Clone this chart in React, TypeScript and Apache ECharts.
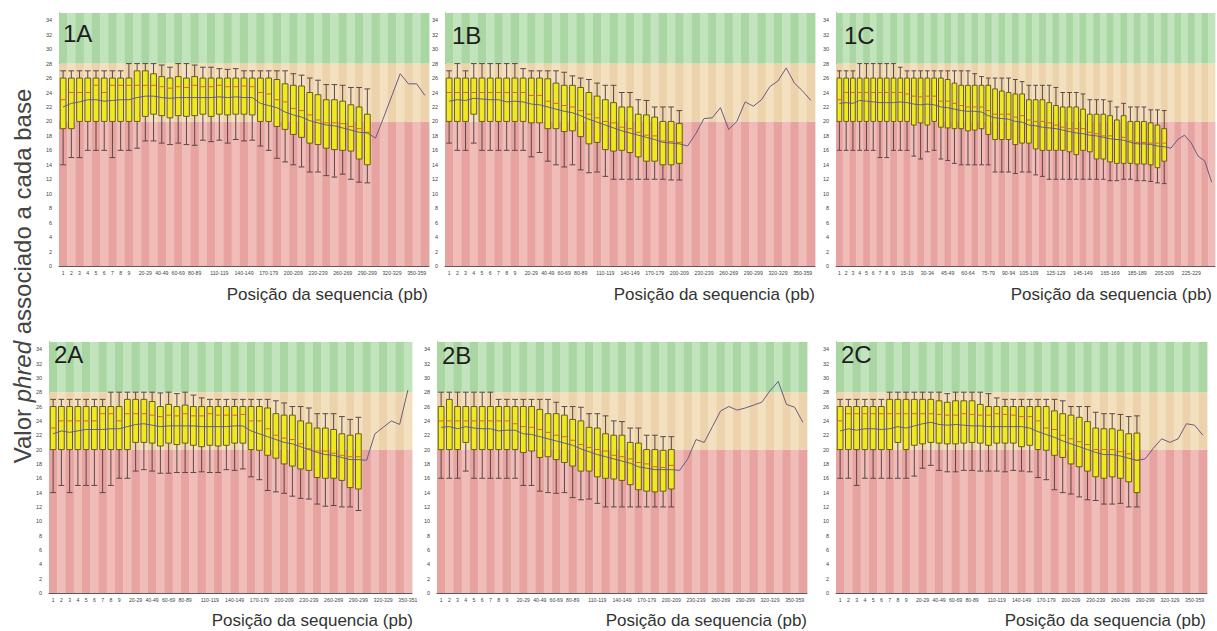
import React, { useEffect, useRef } from "react";
import * as echarts from "echarts";

// ---------- categories ----------
const POS_10 = ["1","2","3","4","5","6","7","8","9","10-19","20-29","30-39","40-49","50-59","60-69","70-79","80-89","90-99","100-109","110-119","120-129","130-139","140-149","150-159","160-169","170-179","180-189","190-199","200-209","210-219","220-229","230-239","240-249","250-259","260-269","270-279","280-289","290-299","300-309","310-319","320-329","330-339","340-349","350-359","360-369"];
const POS_2A = ["1","2","3","4","5","6","7","8","9","10-19","20-29","30-39","40-49","50-59","60-69","70-79","80-89","90-99","100-109","110-119","120-129","130-139","140-149","150-159","160-169","170-179","180-189","190-199","200-209","210-219","220-229","230-239","240-249","250-259","260-269","270-279","280-289","290-299","300-309","310-319","320-329","330-339","340-349","350-351"];
const POS_5 = ["1","2","3","4","5","6","7","8","9","10-14","15-19","20-24","25-29","30-34","35-39","40-44","45-49","50-54","55-59","60-64","65-69","70-74","75-79","80-84","85-89","90-94","95-99","100-104","105-109","110-114","115-119","120-124","125-129","130-134","135-139","140-144","145-149","150-154","155-159","160-164","165-169","170-174","175-179","180-184","185-189","190-194","195-199","200-204","205-209","210-214","215-219","220-224","225-229","230-234","235-239","240-244"];

// ---------- tick labels shown ----------
const TICKS_10 = ["1","2","3","4","5","6","7","8","9","20-29","40-49","60-69","80-89","110-119","140-149","170-179","200-209","230-239","260-269","290-299","320-329","350-359"];
const TICKS_2A = ["1","2","3","4","5","6","7","8","9","20-29","40-49","60-69","80-89","110-119","140-149","170-179","200-209","230-239","260-269","290-299","320-329","350-351"];
const TICKS_5 = ["1","2","3","4","5","6","7","8","9","15-19","30-34","45-49","60-64","75-79","90-94","105-109","125-129","145-149","165-169","185-189","205-209","225-229"];

// quality thresholds / axis range
const Y_MAX = 35;
const RED_MAX = 20;
const ORANGE_MAX = 28;

// ---------- box data [min, q1, median, q3, max] ----------
const BOX_1A = [
  [14,19,23,26,27],[15,19,24,26,27],[15,20,24,26,27],[16,20,24,26,27],[16,20,25,26,27],
  [16,20,24,26,27],[15,20,25,26,27],[16,20,25,26,27],[16,20,25,26,28],[16.3,20,25,27,28],
  [17.3,20.7,25,27,28],[17.3,21,25,26.6,28],[17,20.8,24.8,26.2,27.8],[16.8,20.5,24.6,26,27.5],[17,20.8,24.8,26.2,28],
  [16.8,20.7,24.7,26,28],[16.7,20.8,25,26.2,27.8],[17.4,21,24.8,26,27.5],[17.2,20.7,24.8,26,27.5],[17.4,21,25,26,27.3],
  [17,20.9,24.8,26,27.2],[17.5,21,24.8,26,27.3],[17.3,21,24.9,26,27],[17.4,20.9,24.8,26,27],[16.6,20,24,26,27],
  [16,20,23.8,26,27],[14.9,19.3,23,25.8,27],[14.4,18.9,22.7,25.2,27],[14,18.2,21.8,25,26.6],[13.7,17.8,21.5,24.9,26.4],
  [13,17,20.9,24,26],[13,16.8,20.2,23.7,25.7],[12.5,16.3,19.8,23,25.1],[12.3,16.1,19.8,23,25.1],[12.7,16,19.7,22.8,25],
  [12,15.9,19.3,22.3,24.7],[11.6,14.8,19,22,24.7],[11.5,14,18.5,21,24.5]
];
const MEAN_1A = [22,22.5,22.7,23,23,22.8,22.9,23,23,23.3,23.5,23.5,23.3,23.2,23.3,23.3,23.3,23.3,23.3,23.4,23.3,23.4,23.3,23.3,22.5,22.2,21.9,21.3,20.9,20.6,20.1,19.8,19.5,19.4,19.1,18.8,18.5,18.4,17.7,20.6,23.6,26.6,25.2,25.2,23.6];

const BOX_1B = [
  [17,20,24,26,27],[16,20,24,26,28],[16,20,24,26,27],[17,21,24,26,28],[16,20,24,26,28],
  [16,20,24,26,28],[16,20,24,26,28],[16,20,24,26,28],[16,20,24,26,28],[16,20,24,26,27.3],
  [15.1,19.8,23.6,26,27],[15.7,19.8,23.6,26,27],[14.5,19,22.8,25.9,27],[14,19,22.5,25.3,27],[13.7,18.6,22.2,25,26.8],
  [14,18.7,22,25,26.3],[13.3,17.9,21.5,24.7,26],[12.9,16.9,21,24,25.8],[13,17.1,20.5,23.5,25.3],[12.4,16.1,20,23,25],
  [12,15.9,19.8,22.6,25],[12,16,19.2,22,24],[12,15.7,19,22,24],[12,15.1,18.5,21,23],[12,14.5,18.1,20.9,22.9],
  [12,14.5,18,20.6,22],[12,14,17.3,20,22],[11.9,14,17.2,20,22],[11.9,14.2,17.1,19.7,21.5]
];
const MEAN_1B = [22.8,23,22.9,23.2,23.1,23,23,22.7,22.8,22.7,22.4,22.3,22,21.7,21.4,21.2,20.8,20.3,19.9,19.5,19.1,18.7,18.4,18.1,17.8,17.5,17.1,17,16.9,16.6,18.3,20.4,20.5,21.9,18.9,20,22.7,22.1,23,24.8,25.6,27.4,25.3,24.2,22.9];

const BOX_1C = [
  [16,20,23,26,27],[16,20,24,26,27],[16,20,24,26,27],[16,20,24,26,28],[16,20,24,26,28],
  [16,20,24,26,28],[15,20,24,26,28],[15,20,24,26,28],[16,20,24,26,28],[16,20,24,26,27.5],
  [16,20,23.8,26,27],[15.2,19.5,23.5,26,27],[14.8,19.8,23.4,26,27],[15.8,19.5,23.5,26,27],[16,20,23.5,26,27],
  [14.8,19.2,22.8,26,27],[14.6,19.1,22.8,25.8,27],[14.2,19,22.5,25.3,27],[14,19,22.2,25,27],[14,18.7,22,25,27],
  [14,18.8,22,25,26.6],[14,19,22,25,26.2],[14,18.2,21.5,25,26],[13,17.5,21,24.5,26],[13,17.5,21,24.2,26],
  [13,17.5,21,24,26],[12.8,16.8,20.6,23.8,25.8],[13,17,20.8,23.8,25.5],[13,17,20.2,23,25],[12.6,16.2,20,23,25],
  [12.4,16,20,23,25],[12,16,19.8,22.6,25],[12,16,19.5,22.2,24.7],[12,16,19.2,22,24],[12,15.8,19,22,24],
  [12,15.4,19,22,24],[12,16,19,21.7,23.8],[12,15.8,18.5,21,23],[12,14.8,18.3,21,23],[12,14.8,18,21,23],
  [11.8,14.4,18,20.8,22.8],[11.8,14.2,17.5,20.2,22],[12,14.2,17.8,20.8,22.5],[12,14.2,17.3,20,22],[11.8,14.1,17.1,20,22],
  [11.8,14.1,17.1,20,22],[11.7,14,17,19.8,21.6],[11.5,13.6,17,19.5,21.6],[11.4,14.5,17,19,21.5]
];
const MEAN_1C = [22.5,22.6,22.5,22.9,22.8,22.7,22.6,22.6,22.6,22.7,22.6,22.4,22.3,22.4,22.3,22,21.9,21.7,21.5,21.4,21.4,21.3,20.8,20.5,20.4,20.3,20,19.9,19.5,19.4,19.2,19.1,19,18.8,18.6,18.4,18.3,18.1,18,17.8,17.6,17.5,17.4,17.1,16.9,16.9,16.8,16.6,16.5,16.3,17.5,18.1,17,15.2,14.5,11.6];

const BOX_2A = [
  [14,20,23,26,27],[15,20,24,26,27],[14,20,24,26,27],[15,20,24,26,27],[15,20,24,26,27],
  [15,20,24,26,27],[14,20,25,26,27],[15,20,25,26,28],[16,20,24,26,28],[16,20,25,27,28],
  [17,21,25,27,28],[17.2,21,25,27,28],[17,20.9,24.8,26.7,28],[16.7,20.5,24.6,26,27.9],[16.7,20.9,24.8,26.3,28],
  [16.8,20.7,24.7,26,27.8],[16.8,20.9,25,26.2,28],[16.8,20.6,24.7,26,27.6],[16.9,20.4,24.7,26,27.2],[16.8,20.6,25,26,27],
  [16.8,20.5,24.8,26,27],[17.2,20.6,24.8,26,27],[17.1,20.9,24.8,26,27],[17.3,20.9,24.9,26,27],[16.2,20,24,26,27],
  [15.8,19.9,24,26,27],[14.3,19.2,22.9,25.8,27],[14.1,18.8,22,25,26.8],[13.9,18,21.6,24.8,26.5],[13.5,17.7,21.4,24.8,26],
  [13.2,17.3,20.8,24,26],[13.1,17.1,20.1,23.7,25.8],[12.4,16.1,19.8,23,25],[12.1,16,19.8,23,25],[12.2,16,19.5,22.8,25],
  [12,15.7,19.2,22.2,24.6],[12,14.7,19,22,24.2],[11.5,14.5,19,22.2,24.5]
];
const MEAN_2A = [22.2,22.6,22.4,22.6,22.8,22.8,22.8,22.9,22.9,23.2,23.5,23.6,23.4,23.2,23.3,23.3,23.3,23.3,23.2,23.2,23.2,23.2,23.3,23.3,22.6,22.2,21.8,21.4,21,20.8,20.4,20,19.6,19.3,19.2,18.9,18.6,18.6,18.5,22.2,23.1,24,23.5,28.3];

const BOX_2B = [
  [16,20,24,26,28],[16,20,24,27,28],[16,20,24,26,28],[17,21,24,26,28],[16,20,24,26,28],
  [16,20,24,26,28],[16,20,24,26,28],[16,20,24,26,27],[16,20,24,26,27],[16,20,23.6,26,27],
  [15,19.6,23.2,26,27],[15,19.8,23.1,26,27],[14.2,18.9,22.8,25.6,27],[14,19,22.4,25,27],[13.9,18.6,22,25,26.6],
  [14,18.2,21.8,24.8,26],[13.3,17.7,21.3,24.2,26],[13,17,20.7,24,25.9],[13.1,17,20.3,23.1,25],[12.5,16.2,20,23,25],
  [12,16,19.8,22.2,24.7],[12,15.9,19.2,22,24],[12,15.7,19,22,23.9],[12,15.1,18.7,21,23],[12,14.4,18.2,20.9,23],
  [12,14.2,18,20,22],[12,14.1,17.6,20,22],[12,14.2,17.5,19.9,21.8],[12,14.5,17.8,20,21.8]
];
const MEAN_2B = [23.1,23.2,22.9,23.2,23,22.9,22.9,22.6,22.7,22.7,22.2,22.1,21.8,21.5,21.2,20.9,20.6,20.1,19.7,19.3,19,18.7,18.4,18.1,17.6,17.4,17.2,17.2,17.2,17.1,18.7,21.4,21,23.2,25.4,26,25.5,25.8,26.2,26.6,28.2,29.5,26.3,25.9,23.8];

const BOX_2C = [
  [16,20,24,26,27],[16,20,25,26,27],[15,20,25,26,27],[16,20,25,26,27],[16,20,25,26,27],
  [16,20,25,26,27],[16,20,25,27,28],[16,21,25,27,28],[16,20,25,27,28],[16.3,20.6,25,27,28],
  [17.4,20.8,25,27,28],[17.8,21,25,27,28],[17.1,20.9,24.9,26.8,28],[16.9,20.8,24.8,26.6,27.8],[16.9,20.8,24.8,26.8,28],
  [17.1,20.9,25,26.8,28],[17.1,21,24.9,26.8,28],[17,20.9,24.8,26.3,28],[17,20.6,24.8,26,27.8],[17,20.9,25,26,27.2],
  [16.9,20.9,24.9,26,27],[17.1,20.9,24.8,26,27],[17,20.4,24.6,26,27],[16.9,20.6,24.6,26,27],[16.1,20,24,26,27],
  [15.8,19.9,23,26,27],[14.4,19.2,22.8,25.4,27],[14,18.9,22,25,26.8],[13.8,18,21.5,24.8,26],[13.4,17.6,21.1,24.5,26],
  [13,17,20.7,23.9,26],[12.9,16.2,20,23,25.2],[12.4,16,20,22.9,25],[12.4,16.2,20,22.9,25],[12.5,16,19.7,22.7,24.9],
  [12,15.5,19.4,22.2,24.6],[12,14,18.5,22.3,24.7]
];
const MEAN_2C = [22.6,22.9,22.7,22.9,22.9,22.8,22.9,23.2,23,23.3,23.6,23.8,23.5,23.4,23.5,23.4,23.3,23.3,23.2,23.2,23.2,23.2,23.2,23,22.5,22.1,21.7,21.2,20.8,20.4,20,19.6,19.3,19.3,19.1,18.8,18.5,18.7,20.2,21.5,21,21.5,23.6,23.4,22];

const PANEL_IDS = ["1A", "1B", "1C", "2A", "2B", "2C"];
const X_TITLE = "Posição da sequencia (pb)";

// ---------- layout (pixels) ----------
const LAYOUT = [
  { grid: { left: 59, top: 13, width: 370, height: 253 }, idPos: [63, 33], titlePos: [428, 294] },
  { grid: { left: 445, top: 13, width: 370, height: 253 }, idPos: [452, 35], titlePos: [815, 294] },
  { grid: { left: 836, top: 13, width: 379, height: 253 }, idPos: [844, 35], titlePos: [1212, 294] },
  { grid: { left: 49, top: 342, width: 363, height: 251 }, idPos: [54, 354], titlePos: [413, 620] },
  { grid: { left: 437, top: 342, width: 370, height: 251 }, idPos: [442, 355], titlePos: [807, 620] },
  { grid: { left: 836, top: 342, width: 371, height: 251 }, idPos: [841, 354], titlePos: [1206, 620] },
];

// ---------- colours ----------
const GREEN = ["#a9d6a3", "#c2e4bc"];
const ORANGE = ["#ecd3ab", "#f3e0bf"];
const RED = ["#e6a3a0", "#efbcb8"];
const BOX_FILL = "#efe920";
const BOX_EDGE = "#6a5c1c";
const WHISKER = "#5a4848";
const MEDIAN = "#e2602a";
const MEAN_LINE = "#675c84";
const AXIS = "#6a5555";
const FONT = "'Liberation Sans', Arial, sans-serif";

const PANEL_DATA = [
  { cats: POS_10, ticks: TICKS_10, boxes: BOX_1A, means: MEAN_1A },
  { cats: POS_10, ticks: TICKS_10, boxes: BOX_1B, means: MEAN_1B },
  { cats: POS_5, ticks: TICKS_5, boxes: BOX_1C, means: MEAN_1C },
  { cats: POS_2A, ticks: TICKS_2A, boxes: BOX_2A, means: MEAN_2A },
  { cats: POS_10, ticks: TICKS_10, boxes: BOX_2B, means: MEAN_2B },
  { cats: POS_10, ticks: TICKS_10, boxes: BOX_2C, means: MEAN_2C },
];

function buildOption() {
  const grid: any[] = [];
  const xAxis: any[] = [];
  const yAxis: any[] = [];
  const series: any[] = [];
  const graphic: any[] = [];

  PANEL_DATA.forEach((p, i) => {
    const lay = LAYOUT[i];
    grid.push({ ...lay.grid, containLabel: false });
    const tickSet = new Set(p.ticks);
    xAxis.push({
      type: "category",
      gridIndex: i,
      data: p.cats,
      boundaryGap: true,
      axisLine: { show: true, lineStyle: { color: AXIS, width: 1 } },
      axisTick: { show: false },
      splitLine: { show: false },
      axisLabel: {
        fontSize: 5.2,
        color: "#444",
        margin: 4,
        fontFamily: FONT,
        hideOverlap: false,
        interval: (_idx: number, val: string) => tickSet.has(val),
      },
    });
    yAxis.push({
      type: "value",
      gridIndex: i,
      min: 0,
      max: Y_MAX,
      interval: 2,
      axisLine: { show: true, lineStyle: { color: AXIS, width: 1 } },
      axisTick: { show: false },
      splitLine: { show: false },
      axisLabel: {
        fontSize: 5.5,
        color: "#444",
        margin: 7,
        fontFamily: FONT,
        showMaxLabel: false,
        formatter: (v: number) => (v % 2 === 0 ? String(v) : ""),
      },
    });

    // background bands with alternating stripes
    series.push({
      type: "custom",
      xAxisIndex: i,
      yAxisIndex: i,
      silent: true,
      z: 1,
      data: p.cats.map((_c, k) => [k, 0]),
      encode: { x: 0, y: 1 },
      renderItem: (_params: any, api: any) => {
        const k = api.value(0);
        const w = api.size([1, 0])[0];
        const x = api.coord([k, 0])[0] - w / 2;
        const y0 = api.coord([k, 0])[1];
        const yR = api.coord([k, RED_MAX])[1];
        const yO = api.coord([k, ORANGE_MAX])[1];
        const yT = api.coord([k, Y_MAX])[1];
        const s = k % 2;
        return {
          type: "group",
          children: [
            { type: "rect", shape: { x, y: yR, width: w + 0.4, height: y0 - yR }, style: { fill: RED[s] } },
            { type: "rect", shape: { x, y: yO, width: w + 0.4, height: yR - yO }, style: { fill: ORANGE[s] } },
            { type: "rect", shape: { x, y: yT, width: w + 0.4, height: yO - yT }, style: { fill: GREEN[s] } },
          ],
        };
      },
    });

    // boxes
    series.push({
      type: "custom",
      xAxisIndex: i,
      yAxisIndex: i,
      z: 3,
      data: p.boxes.map((b, k) => [k, ...b]),
      encode: { x: 0, y: [1, 2, 3, 4, 5] },
      renderItem: (_params: any, api: any) => {
        const k = api.value(0);
        const xc = api.coord([k, 0])[0];
        const w = api.size([1, 0])[0] * 0.7;
        const yMin = api.coord([k, api.value(1)])[1];
        const yQ1 = api.coord([k, api.value(2)])[1];
        const yMed = api.coord([k, api.value(3)])[1];
        const yQ3 = api.coord([k, api.value(4)])[1];
        const yMax = api.coord([k, api.value(5)])[1];
        const wl = { stroke: WHISKER, lineWidth: 1 };
        return {
          type: "group",
          children: [
            { type: "line", shape: { x1: xc, y1: yMin, x2: xc, y2: yQ1 }, style: wl },
            { type: "line", shape: { x1: xc, y1: yQ3, x2: xc, y2: yMax }, style: wl },
            { type: "line", shape: { x1: xc - w / 2, y1: yMin, x2: xc + w / 2, y2: yMin }, style: wl },
            { type: "line", shape: { x1: xc - w / 2, y1: yMax, x2: xc + w / 2, y2: yMax }, style: wl },
            {
              type: "rect",
              shape: { x: xc - w / 2, y: yQ3, width: w, height: yQ1 - yQ3 },
              style: { fill: BOX_FILL, stroke: BOX_EDGE, lineWidth: 1 },
            },
            { type: "line", shape: { x1: xc - w / 2 + 0.5, y1: yMed, x2: xc + w / 2 - 0.5, y2: yMed }, style: { stroke: MEDIAN, lineWidth: 1 } },
          ],
        };
      },
    });

    // mean line
    series.push({
      type: "line",
      xAxisIndex: i,
      yAxisIndex: i,
      z: 5,
      data: p.means,
      symbol: "none",
      lineStyle: { color: MEAN_LINE, width: 1 },
    });

    graphic.push({
      type: "text",
      x: lay.idPos[0],
      y: lay.idPos[1],
      z: 10,
      style: {
        text: PANEL_IDS[i],
        fontSize: 24,
        fontFamily: FONT,
        fill: "#1e1e1e",
        align: "left",
        verticalAlign: "middle",
      },
    });
    graphic.push({
      type: "text",
      x: lay.titlePos[0],
      y: lay.titlePos[1],
      style: {
        text: X_TITLE,
        fontSize: 17,
        fontFamily: FONT,
        fill: "#333",
        align: "right",
        verticalAlign: "middle",
      },
    });
  });

  graphic.push({
    type: "text",
    x: 22,
    y: 276,
    rotation: Math.PI / 2,
    style: {
      text: "{a|Valor }{b|phred}{a| associado a cada base}",
      align: "center",
      verticalAlign: "middle",
      rich: {
        a: { fontSize: 24, fontFamily: FONT, fill: "#444", color: "#444" },
        b: { fontSize: 24, fontFamily: FONT, fontStyle: "italic", fill: "#444", color: "#444" },
      },
    },
  });

  return {
    animation: false,
    backgroundColor: "#ffffff",
    grid,
    xAxis,
    yAxis,
    series,
    graphic,
  };
}

export default function App() {
  const ref = useRef<HTMLDivElement>(null);
  useEffect(() => {
    if (!ref.current) return;
    const chart = echarts.init(ref.current, undefined, { renderer: "svg" });
    chart.setOption(buildOption());
    return () => chart.dispose();
  }, []);
  return (
    <div
      ref={ref}
      style={{ position: "absolute", left: 0, top: 0, width: 1217, height: 631 }}
    />
  );
}
